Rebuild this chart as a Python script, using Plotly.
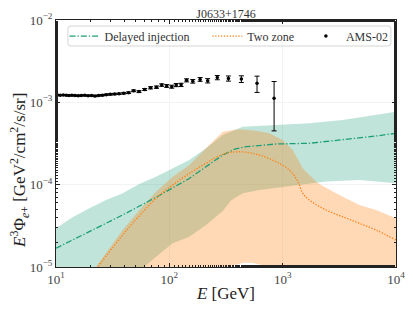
import plotly.graph_objects as go

# ---------------- data ----------------
# AMS-02 positron data: energy [GeV], E^3 flux, error
ams_E = [10.3, 10.9, 11.6, 12.3, 13.0, 13.8, 14.7, 15.7, 16.7, 17.9, 19.2, 20.6, 22.1, 23.8,
         25.7, 27.8, 30.2, 32.9, 36.0, 39.6, 43.7, 48.4, 54.0, 60.6, 68.3, 77.0, 85.7, 94.8,
         105, 115, 127, 142, 161, 187, 218, 265, 332, 432, 594, 840]
ams_F = [1.23e-3, 1.22e-3, 1.23e-3, 1.22e-3, 1.21e-3, 1.22e-3, 1.21e-3, 1.20e-3, 1.21e-3, 1.22e-3,
         1.20e-3, 1.21e-3, 1.19e-3, 1.21e-3, 1.22e-3, 1.24e-3, 1.25e-3, 1.26e-3, 1.27e-3, 1.29e-3,
         1.31e-3, 1.38e-3, 1.35e-3, 1.43e-3, 1.50e-3, 1.53e-3, 1.62e-3, 1.58e-3, 1.55e-3, 1.62e-3,
         1.63e-3, 1.85e-3, 1.80e-3, 1.90e-3, 1.83e-3, 2.00e-3, 1.95e-3, 1.92e-3, 1.70e-3, 1.12e-3]
ams_err = [0.015e-3, 0.015e-3, 0.015e-3, 0.015e-3, 0.015e-3, 0.016e-3, 0.016e-3, 0.016e-3, 0.017e-3,
           0.017e-3, 0.018e-3, 0.018e-3, 0.019e-3, 0.020e-3, 0.021e-3, 0.022e-3, 0.023e-3, 0.024e-3,
           0.026e-3, 0.028e-3, 0.030e-3, 0.033e-3, 0.036e-3, 0.040e-3, 0.045e-3, 0.050e-3, 0.055e-3,
           0.060e-3, 0.065e-3, 0.070e-3, 0.075e-3, 0.08e-3, 0.09e-3, 0.10e-3, 0.11e-3, 0.12e-3,
           0.14e-3, 0.18e-3, 0.38e-3, 0.67e-3]

# Delayed injection model (line + band)
di_E = [10, 19.7, 38.8, 76.3, 150, 296, 316, 379, 475, 873, 1718, 3388, 6664, 10000]
di_F = [1.69e-5, 2.69e-5, 4.29e-5, 7.02e-5, 1.19e-4, 2.29e-4, 2.40e-4, 2.71e-4, 2.89e-4,
        3.12e-4, 3.18e-4, 3.49e-4, 3.90e-4, 4.21e-4]
di_up_E = [10, 14.0, 19.7, 27.6, 38.8, 54.3, 76.3, 107, 150, 211, 296, 444, 873, 1718, 3388, 6664, 10000]
di_up_F = [2.95e-5, 4.02e-5, 5.16e-5, 6.52e-5, 7.85e-5, 1.02e-4, 1.25e-4, 1.58e-4, 2.0e-4,
           2.77e-4, 4.01e-4, 5.06e-4, 5.31e-4, 5.56e-4, 6.10e-4, 7.02e-4, 7.69e-4]
di_lo_E = [10, 30, 60.1, 76.3, 107, 150, 211, 296, 350, 444, 622, 1227, 1841, 2412, 4744, 10000]
di_lo_F = [2e-6, 4e-6, 1.01e-5, 1.33e-5, 1.94e-5, 2.33e-5, 3.24e-5, 4.8e-5, 6.4e-5, 7.85e-5,
           8.61e-5, 9.64e-5, 1.04e-4, 1.09e-4, 1.14e-4, 1.04e-4]

# Two zone model (line + band)
tz_E = [22, 23.3, 33.8, 47.5, 76.3, 107, 150, 211, 296, 414, 622, 873, 1146, 1358, 1504, 1718,
        2412, 3388, 4744, 6664, 10000]
tz_F = [9e-6, 1.0e-5, 1.94e-5, 3.40e-5, 6.82e-5, 9.91e-5, 1.37e-4, 1.82e-4, 2.34e-4, 2.51e-4,
        2.29e-4, 1.90e-4, 1.51e-4, 1.09e-4, 7.85e-5, 6.52e-5, 4.92e-5, 4.08e-5, 3.40e-5, 2.81e-5, 2.13e-5]
tz_up_E = [20, 22.5, 38.8, 54.3, 76.3, 107, 150, 211, 296, 414, 582, 762, 1000, 1227, 1504, 1968,
           2254, 3388, 4744, 6664, 10000]
tz_up_F = [8e-6, 1.0e-5, 2.81e-5, 4.92e-5, 8.20e-5, 1.25e-4, 1.73e-4, 2.77e-4, 4.40e-4, 4.70e-4,
           4.52e-4, 4.21e-4, 3.48e-4, 2.64e-4, 1.58e-4, 1.09e-4, 9.64e-5, 7.14e-5, 5.66e-5, 4.92e-5, 3.90e-5]
tz_lo_E = [20, 50, 100, 250, 330, 380, 450, 550, 680, 780, 1000, 3000, 10000]
tz_lo_F = [4e-6, 6e-6, 8e-6, 9.5e-6, 9.8e-6, 1.06e-5, 1.13e-5, 1.12e-5, 1.04e-5, 9.8e-6, 8e-6, 6e-6, 4e-6]

x_tickvals = [10, 100, 1000, 10000]
x_ticktext = ["10<sup>1</sup>", "10<sup>2</sup>", "10<sup>3</sup>", "10<sup>4</sup>"]
y_tickvals = [1e-5, 1e-4, 1e-3, 1e-2]
y_ticktext = ["10<sup>−5</sup>", "10<sup>−4</sup>", "10<sup>−3</sup>", "10<sup>−2</sup>"]

GREEN = "#1b9e77"
ORANGE = "#ff7f0e"
FONT = "Liberation Serif, DejaVu Serif, serif"

fig = go.Figure()

# bands
fig.add_trace(go.Scatter(
    x=di_up_E + di_lo_E[::-1], y=di_up_F + di_lo_F[::-1],
    fill="toself", fillcolor="rgba(27,158,119,0.28)", line=dict(width=0),
    mode="lines", showlegend=False, hoverinfo="skip"))
fig.add_trace(go.Scatter(
    x=tz_up_E + tz_lo_E[::-1], y=tz_up_F + tz_lo_F[::-1],
    fill="toself", fillcolor="rgba(255,127,14,0.3)", line=dict(width=0),
    mode="lines", showlegend=False, hoverinfo="skip"))

# lines
fig.add_trace(go.Scatter(
    x=di_E, y=di_F, mode="lines", name="Delayed injection",
    line=dict(color=GREEN, width=1.3, dash="6px,2px,1.3px,2px"), legend="legend"))
fig.add_trace(go.Scatter(
    x=tz_E, y=tz_F, mode="lines", name="Two zone", line_shape="spline",
    line=dict(color=ORANGE, width=1.3, dash="1.3px,1.6px"), legend="legend2"))

# data
fig.add_trace(go.Scatter(
    x=ams_E, y=ams_F, mode="markers", name="AMS-02",
    marker=dict(color="black", size=3.5),
    error_y=dict(type="data", array=ams_err, color="black", thickness=1, width=2.5),
    legend="legend3"))

axis_common = dict(
    type="log", showline=True, linecolor="#222", linewidth=1, mirror="allticks",
    ticks="inside", ticklen=4, tickcolor="#222", automargin=False,
    showgrid=True, gridcolor="#f3f3f3", gridwidth=1, zeroline=False,
    tickfont=dict(family=FONT, size=13, color="#444"),
    minor=dict(ticks="inside", ticklen=2, tickcolor="#222", showgrid=False),
)

leg_common = dict(y=0.935, xanchor="left", yanchor="middle", orientation="h",
                  bgcolor="rgba(0,0,0,0)", borderwidth=0,
                  font=dict(family=FONT, size=12, color="#333"))

# the page body adds an 8px offset; the figure is sized so the plot area lands where the reference has it
fig.update_layout(
    width=405, height=302,
    margin=dict(l=48, r=17, t=12, b=43, autoexpand=False),
    paper_bgcolor="white", plot_bgcolor="white",
    font=dict(family=FONT, color="#222"),
    title=dict(text="J0633+1746", x=0.5, xref="paper", xanchor="center",
               y=1, yref="paper", yanchor="bottom", pad=dict(b=2, t=0),
               font=dict(family=FONT, size=12, color="#333")),
    xaxis=dict(axis_common, range=[1, 4], tickvals=x_tickvals, ticktext=x_ticktext,
               title=dict(text="<i>E</i> [GeV]", font=dict(family=FONT, size=17, color="#222"),
                          standoff=1)),
    yaxis=dict(axis_common, range=[-5, -2], tickvals=y_tickvals, ticktext=y_ticktext),
    annotations=[dict(
        text="<i>E</i><sup>3</sup>Φ<sub><i>e</i>+</sub> [GeV<sup>2</sup>/cm<sup>2</sup>/s/sr]",
        xref="paper", yref="paper", x=-0.106, y=0.393, xanchor="center", yanchor="middle",
        textangle=-90, showarrow=False, font=dict(family=FONT, size=17, color="#222"))],
    legend=dict(leg_common, x=0.025),
    legend2=dict(leg_common, x=0.445),
    legend3=dict(leg_common, x=0.735),
    shapes=[dict(type="path", xref="paper", yref="paper",
                 path="M 0.044 0.8947 L 0.976 0.8947 Q 0.985 0.8947 0.985 0.907 L 0.985 0.9635 "
                      "Q 0.985 0.9757 0.976 0.9757 L 0.044 0.9757 Q 0.035 0.9757 0.035 0.9635 "
                      "L 0.035 0.907 Q 0.035 0.8947 0.044 0.8947 Z",
                 line=dict(color="#d5d5d5", width=1), fillcolor="rgba(255,255,255,0.8)",
                 layer="above")],
)

fig.write_html("out.html")
